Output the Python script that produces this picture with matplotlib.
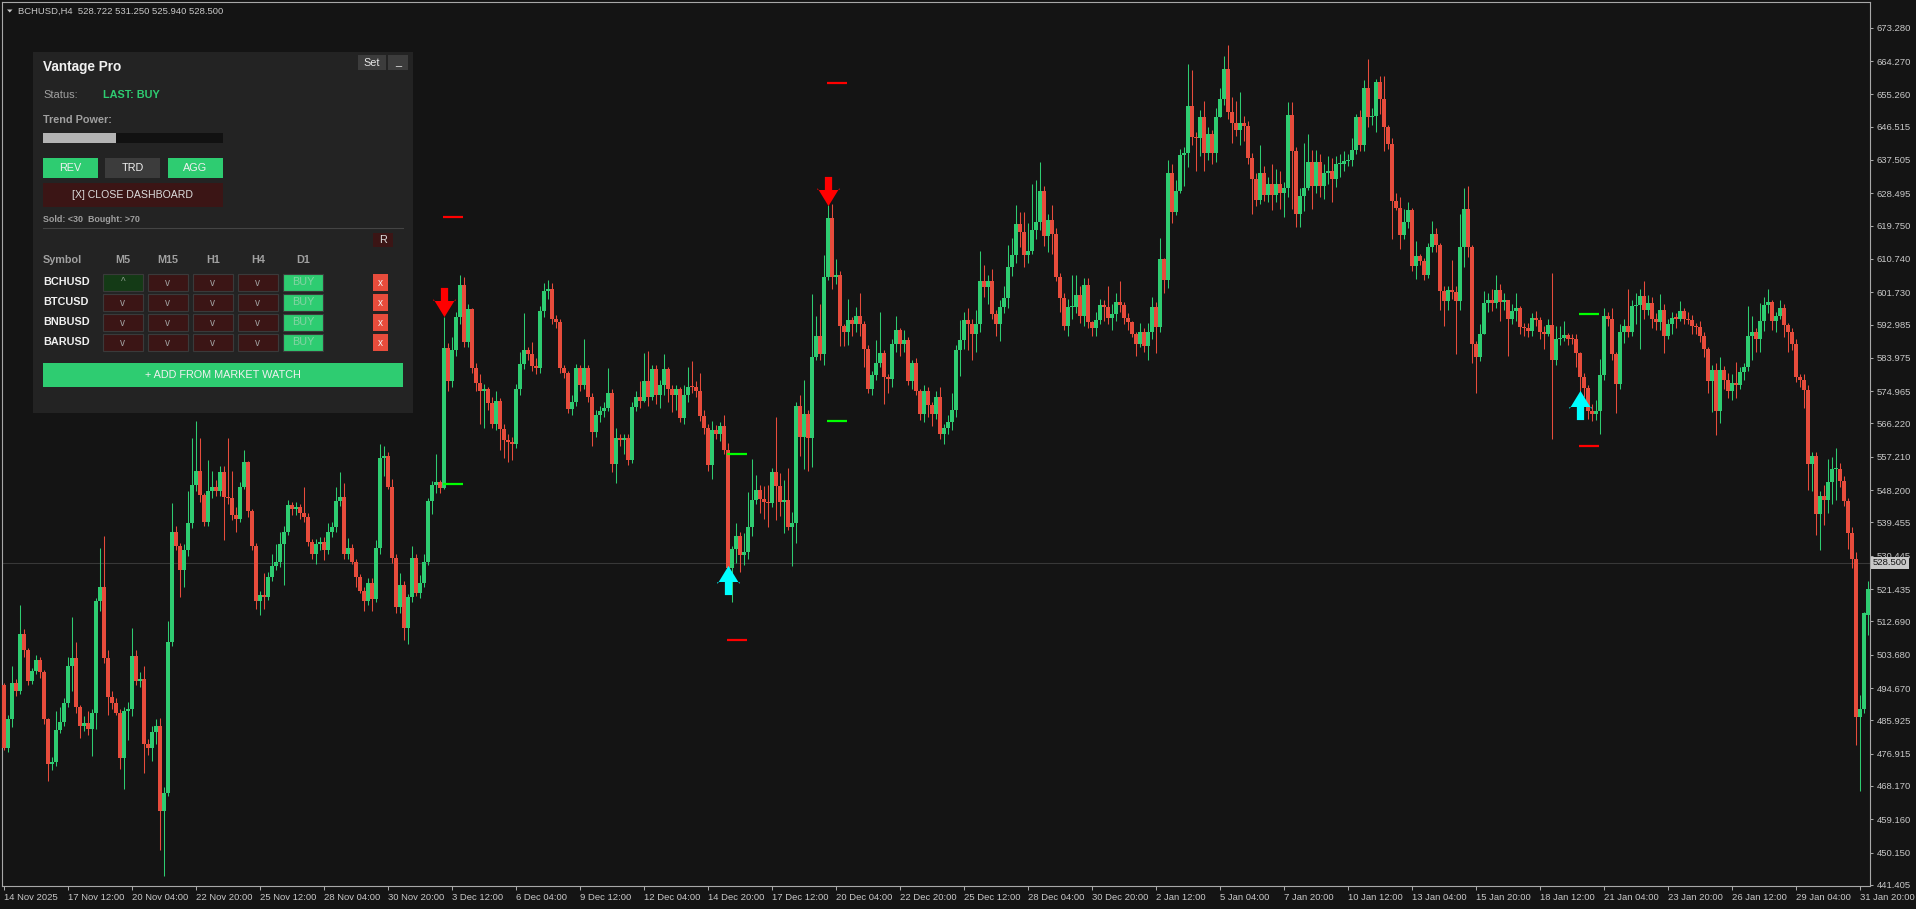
import matplotlib
matplotlib.use("Agg")
import matplotlib.pyplot as plt
from matplotlib.patches import Rectangle, Polygon
from matplotlib.path import Path
from matplotlib.transforms import blended_transform_factory
import numpy as np

plt.rcParams['font.family'] = ['Liberation Sans', 'DejaVu Sans']

# --- chart data (H4 bars) ---
symbol = "BCHUSD,H4"
last_bar = [528.722, 531.250, 525.940, 528.500]
last_price = 528.500

opens = [
    495.6, 478.5, 486.2, 496.1, 494.0, 509.4, 505.0, 496.7, 499.4, 502.2,
    498.9, 486.2, 474.1, 474.6, 483.4, 485.6, 490.6, 500.5, 502.8, 489.5,
    484.5, 485.1, 483.5, 487.8, 518.2, 522.1, 502.8, 492.2, 490.6, 487.8,
    475.7, 488.4, 488.9, 503.3, 496.7, 497.2, 479.6, 478.5, 482.9, 484.5,
    461.4, 466.3, 507.2, 537.0, 533.1, 526.5, 532.0, 539.2, 549.7, 553.5,
    546.9, 539.7, 548.0, 549.1, 548.0, 553.0, 546.4, 546.0, 541.4, 540.3,
    549.1, 555.7, 542.5, 533.1, 518.2, 519.9, 519.3, 524.8, 527.6, 528.7,
    533.7, 537.0, 544.1, 543.0, 543.6, 541.9, 540.8, 534.2, 530.9, 533.7,
    534.2, 532.0, 537.0, 538.1, 545.2, 546.4, 530.9, 532.6, 528.7, 524.8,
    521.0, 518.2, 523.2, 518.8, 532.6, 556.8, 557.4, 549.1, 529.8, 516.6,
    522.6, 511.0, 519.3, 529.8, 520.4, 523.2, 528.7, 545.2, 549.7, 550.5,
    548.9, 586.6, 577.8, 586.1, 594.9, 603.8, 588.3, 597.2, 581.1, 577.3,
    575.0, 575.6, 571.8, 566.2, 572.3, 564.6, 561.8, 561.3, 560.7, 575.6,
    582.2, 586.1, 585.0, 581.7, 581.1, 596.6, 602.1, 602.5, 594.4, 593.8,
    581.1, 580.0, 570.1, 572.0, 581.1, 576.7, 581.1, 573.4, 564.0, 568.4,
    569.5, 570.5, 574.5, 555.2, 562.4, 561.8, 562.4, 556.3, 570.6, 573.4,
    572.2, 577.7, 573.3, 581.0, 573.8, 576.6, 581.0, 575.5, 573.8, 575.5,
    567.8, 573.8, 576.1, 576.0, 575.0, 568.3, 565.0, 555.1, 564.5, 563.4,
    565.6, 559.0, 527.0, 532.2, 535.8, 530.6, 531.5, 538.3, 545.6, 548.3,
    545.7, 545.0, 544.6, 553.2, 549.3, 545.1, 545.6, 538.1, 539.3, 570.9,
    562.6, 568.9, 562.3, 584.3, 589.9, 584.9, 605.9, 621.9, 605.9, 606.4,
    592.6, 590.9, 594.3, 593.2, 595.4, 593.2, 586.5, 575.5, 579.4, 582.7,
    585.4, 578.8, 578.2, 587.6, 591.5, 587.6, 588.8, 577.7, 582.7, 575.0,
    568.9, 575.0, 571.1, 568.9, 573.3, 563.4, 565.0, 566.7, 570.0, 586.0,
    588.8, 594.3, 593.2, 590.4, 593.2, 604.8, 603.1, 604.8, 595.9, 593.2,
    597.6, 600.3, 608.6, 611.9, 620.2, 618.0, 611.9, 613.0, 618.6, 620.8,
    629.0, 616.9, 621.3, 617.5, 605.9, 600.3, 592.6, 597.6, 597.6, 600.9,
    595.4, 603.7, 593.7, 592.0, 594.3, 598.2, 597.6, 594.8, 595.9, 599.2,
    598.2, 594.8, 593.7, 590.4, 587.6, 591.0, 587.1, 591.0, 597.8, 592.3,
    610.8, 605.1, 634.0, 623.5, 629.0, 638.9, 639.5, 652.2, 643.7, 643.4,
    649.2, 639.5, 644.5, 639.5, 649.2, 654.1, 662.2, 650.6, 647.5, 645.6,
    647.5, 646.7, 637.9, 632.4, 626.8, 634.0, 627.9, 630.9, 627.9, 630.9,
    628.6, 629.8, 649.8, 639.9, 622.9, 627.7, 629.8, 636.9, 630.5, 636.9,
    630.5, 633.9, 634.6, 632.3, 636.4, 636.5, 637.1, 637.5, 640.1, 649.1,
    641.5, 657.1, 649.1, 649.5, 658.5, 653.9, 646.3, 641.9, 626.3, 624.5,
    617.1, 620.8, 624.0, 608.8, 611.5, 610.2, 606.3, 613.9, 617.4, 614.6,
    602.1, 599.4, 602.4, 601.9, 599.4, 613.9, 624.3, 613.9, 587.7, 584.2,
    590.4, 598.7, 599.7, 598.7, 602.4, 599.1, 599.5, 594.6, 596.7, 597.4,
    592.2, 592.0, 591.2, 594.8, 594.2, 591.1, 590.4, 592.8, 583.5, 589.1,
    589.4, 590.1, 589.1, 589.0, 585.3, 578.7, 575.9, 569.7, 568.8, 569.7,
    579.4, 595.3, 594.6, 584.9, 577.0, 591.1, 592.5, 591.1, 598.0, 598.3,
    600.8, 596.9, 598.7, 594.6, 593.6, 597.0, 589.8, 593.2, 594.8, 594.6,
    596.7, 594.6, 594.1, 592.5, 592.2, 590.0, 586.3, 577.6, 580.8, 569.7,
    580.8, 578.0, 574.9, 577.3, 576.7, 580.1, 581.5, 589.8, 591.1, 589.0,
    593.9, 598.3, 599.0, 593.9, 595.3, 597.4, 592.8, 591.1, 587.7, 578.7,
    578.0, 575.2, 555.2, 557.3, 541.7, 546.7, 545.6, 550.4, 553.8, 554.0,
    550.8, 545.3, 536.6, 529.7, 486.9, 489.0, 514.4,
]

highs = [
    496.1, 487.3, 500.5, 497.0, 517.1, 510.5, 505.5, 500.0, 503.5, 503.0,
    499.5, 486.5, 476.0, 488.4, 489.5, 492.0, 503.0, 513.8, 507.1, 490.0,
    487.0, 488.5, 489.0, 519.0, 532.6, 535.9, 505.0, 494.0, 492.0, 489.0,
    489.5, 491.0, 511.0, 505.0, 499.0, 500.5, 481.0, 484.5, 486.2, 486.5,
    468.0, 512.7, 544.7, 538.5, 534.0, 533.5, 548.0, 562.4, 566.8, 562.4,
    547.5, 556.3, 553.5, 551.0, 554.6, 554.6, 562.4, 553.5, 543.5, 550.5,
    559.1, 556.0, 543.0, 534.0, 521.0, 525.9, 526.0, 530.9, 533.7, 537.0,
    538.5, 545.5, 545.0, 545.0, 544.5, 549.1, 542.0, 535.0, 535.0, 535.5,
    535.5, 539.2, 539.5, 549.1, 553.0, 550.2, 535.3, 533.5, 529.5, 525.5,
    522.0, 524.5, 524.5, 534.8, 560.7, 560.2, 558.5, 551.3, 531.0, 525.9,
    523.5, 520.0, 533.1, 531.0, 525.3, 530.9, 546.0, 550.8, 557.9, 551.0,
    594.9, 588.0, 589.5, 596.5, 606.5, 605.9, 598.5, 597.5, 582.5, 579.5,
    577.0, 576.0, 573.5, 575.0, 573.0, 566.0, 563.5, 562.5, 577.0, 585.5,
    596.0, 587.0, 588.3, 584.0, 598.0, 604.3, 604.9, 604.3, 595.5, 594.5,
    582.0, 580.5, 574.0, 582.4, 582.0, 589.1, 582.0, 574.5, 570.0, 571.0,
    572.0, 581.1, 575.5, 565.0, 563.5, 563.5, 563.5, 572.0, 575.0, 577.7,
    585.4, 585.7, 582.0, 582.0, 578.0, 584.9, 581.5, 576.6, 576.5, 576.0,
    576.5, 581.6, 583.2, 577.7, 579.9, 570.0, 566.0, 567.0, 565.8, 566.7,
    568.5, 561.0, 533.0, 539.3, 537.0, 536.5, 547.8, 556.5, 552.3, 549.5,
    549.3, 549.5, 554.3, 567.9, 552.9, 551.0, 554.1, 542.2, 572.0, 574.0,
    578.0, 570.0, 601.3, 595.4, 598.6, 611.9, 625.2, 625.5, 610.6, 607.5,
    593.0, 599.8, 595.0, 597.7, 601.5, 594.0, 587.5, 580.5, 588.8, 596.5,
    586.0, 579.5, 589.0, 595.4, 592.0, 591.5, 589.5, 583.5, 584.0, 575.5,
    576.5, 576.0, 572.0, 575.0, 576.0, 566.0, 568.5, 574.4, 587.5, 594.3,
    596.5, 597.5, 594.5, 597.0, 613.0, 609.0, 606.5, 608.0, 597.0, 599.5,
    603.5, 614.5, 616.5, 625.2, 623.5, 623.5, 620.5, 630.9, 632.0, 636.9,
    630.5, 623.0, 625.2, 619.0, 607.0, 601.5, 600.0, 606.4, 606.5, 603.5,
    605.5, 605.5, 594.0, 596.5, 599.8, 599.5, 603.5, 598.5, 601.5, 604.8,
    599.0, 596.0, 594.0, 591.0, 593.5, 592.0, 593.5, 600.5, 599.0, 616.5,
    611.0, 637.5, 636.4, 632.0, 640.6, 641.0, 663.5, 661.8, 645.0, 651.0,
    653.5, 646.5, 645.5, 651.5, 657.0, 665.5, 668.6, 654.5, 653.5, 655.9,
    649.5, 648.0, 639.5, 634.0, 641.5, 636.0, 633.0, 636.5, 635.0, 634.4,
    631.5, 653.3, 653.3, 641.0, 630.0, 642.2, 644.4, 640.3, 640.3, 639.0,
    636.5, 638.5, 638.0, 638.5, 639.0, 640.0, 639.0, 643.5, 650.0, 651.0,
    659.0, 664.9, 651.5, 659.5, 660.2, 660.1, 647.0, 643.5, 628.5, 627.5,
    624.3, 626.1, 624.5, 615.5, 612.0, 611.0, 615.0, 621.1, 619.0, 615.0,
    603.5, 603.5, 610.5, 603.5, 622.9, 629.8, 630.5, 614.5, 588.5, 593.0,
    602.0, 601.5, 602.5, 606.3, 603.9, 601.5, 599.5, 598.5, 601.5, 598.0,
    593.5, 593.5, 596.0, 596.7, 595.0, 592.5, 594.5, 606.9, 592.5, 592.5,
    593.9, 590.8, 590.5, 590.5, 585.5, 580.0, 576.5, 571.5, 572.5, 583.7,
    597.4, 596.5, 597.4, 585.5, 593.0, 594.5, 602.6, 599.5, 601.5, 602.6,
    604.7, 601.0, 600.5, 596.0, 601.2, 598.5, 594.5, 596.5, 596.0, 599.4,
    597.5, 596.5, 595.5, 593.5, 594.0, 591.0, 587.0, 582.0, 582.5, 584.2,
    581.8, 580.0, 579.5, 582.9, 581.5, 582.5, 598.0, 595.3, 592.0, 598.8,
    600.5, 602.6, 599.5, 596.5, 599.6, 598.5, 593.5, 592.0, 589.0, 579.5,
    579.5, 576.5, 558.5, 558.5, 548.0, 549.5, 556.6, 557.2, 559.5, 555.5,
    552.0, 546.0, 538.2, 531.5, 492.9, 515.3, 523.6,
]

lows = [
    477.9, 477.5, 484.0, 492.5, 493.0, 503.0, 495.5, 495.8, 498.5, 497.5,
    485.0, 469.6, 472.5, 473.5, 482.5, 484.5, 489.5, 494.0, 488.0, 481.2,
    483.0, 482.0, 476.3, 483.5, 515.5, 501.5, 487.3, 489.0, 487.3, 472.9,
    467.4, 480.6, 487.0, 495.5, 495.0, 471.8, 476.5, 475.0, 479.5, 450.9,
    443.7, 465.5, 506.0, 532.0, 519.3, 522.0, 530.5, 538.0, 548.0, 545.0,
    538.5, 538.5, 546.0, 546.5, 546.5, 534.8, 544.5, 540.0, 537.0, 539.5,
    548.5, 541.0, 532.0, 516.0, 514.3, 516.0, 518.5, 523.5, 526.5, 527.5,
    522.5, 536.0, 541.5, 541.5, 540.5, 539.5, 533.0, 529.5, 528.2, 532.0,
    529.2, 531.0, 535.5, 537.0, 544.0, 529.5, 529.5, 528.2, 522.1, 520.4,
    515.4, 517.0, 515.4, 518.0, 531.0, 552.0, 548.5, 528.5, 514.9, 515.0,
    507.7, 506.6, 518.0, 519.5, 519.0, 522.0, 528.0, 541.8, 547.5, 547.5,
    548.5, 575.0, 576.0, 584.5, 593.0, 587.0, 587.0, 580.0, 575.0, 566.2,
    565.1, 570.0, 565.0, 564.5, 559.1, 557.0, 555.7, 556.3, 559.5, 574.0,
    581.0, 583.5, 580.5, 579.5, 580.0, 595.0, 600.0, 593.0, 592.0, 580.0,
    578.5, 569.0, 568.5, 571.0, 575.0, 575.5, 572.0, 560.2, 562.5, 566.5,
    568.0, 569.5, 553.0, 550.2, 560.0, 558.0, 555.0, 555.5, 569.5, 570.5,
    572.0, 571.0, 572.5, 571.5, 570.5, 574.0, 572.0, 569.3, 570.0, 566.5,
    566.0, 572.0, 574.5, 573.5, 567.0, 563.5, 553.4, 551.2, 562.0, 561.5,
    558.0, 524.5, 518.0, 528.5, 526.0, 528.0, 529.5, 535.9, 544.5, 542.0,
    540.5, 538.2, 543.7, 540.0, 541.2, 536.5, 537.5, 527.8, 533.8, 557.5,
    554.0, 553.4, 554.5, 583.5, 583.5, 582.1, 605.0, 602.6, 604.0, 587.1,
    587.1, 587.5, 590.0, 591.0, 590.0, 581.5, 574.4, 574.0, 578.0, 581.5,
    571.5, 574.5, 576.0, 585.5, 584.5, 585.5, 576.6, 575.5, 573.8, 567.2,
    566.5, 568.0, 565.6, 567.5, 562.0, 560.6, 563.5, 564.5, 568.0, 579.0,
    586.5, 586.0, 583.5, 585.6, 591.0, 600.5, 598.5, 594.5, 590.0, 588.4,
    596.0, 597.5, 606.0, 609.5, 614.0, 608.5, 609.5, 612.0, 616.0, 618.5,
    614.3, 612.5, 612.0, 604.8, 596.3, 591.5, 590.0, 594.5, 596.0, 593.5,
    592.5, 592.0, 589.9, 590.0, 593.0, 594.0, 593.0, 591.5, 594.0, 596.5,
    593.0, 591.5, 589.5, 584.5, 587.0, 585.5, 583.5, 589.0, 585.4, 591.0,
    601.5, 602.9, 620.4, 622.5, 628.5, 630.5, 635.5, 641.5, 634.5, 638.5,
    634.5, 637.5, 636.5, 637.0, 649.0, 652.5, 648.5, 642.0, 644.0, 641.5,
    642.5, 636.5, 622.8, 625.0, 625.5, 626.5, 626.0, 624.0, 626.0, 624.3,
    622.0, 627.5, 624.3, 619.3, 619.3, 623.6, 629.5, 624.3, 628.5, 627.5,
    627.0, 631.0, 626.0, 630.3, 633.0, 634.5, 636.0, 636.0, 639.0, 640.0,
    640.0, 646.5, 647.0, 645.0, 650.0, 640.0, 640.5, 616.0, 624.0, 613.5,
    616.0, 619.0, 607.5, 605.2, 609.0, 604.9, 605.5, 612.5, 612.5, 597.0,
    592.5, 597.0, 600.0, 585.0, 597.0, 608.5, 611.3, 582.7, 574.5, 583.0,
    590.5, 596.5, 596.7, 597.5, 593.9, 597.0, 584.6, 593.0, 594.0, 590.5,
    590.0, 589.5, 590.0, 592.5, 589.0, 586.5, 590.0, 562.0, 582.0, 587.5,
    588.5, 587.5, 587.7, 581.5, 567.7, 573.5, 567.5, 566.8, 567.3, 563.5,
    578.0, 592.5, 583.5, 569.0, 575.5, 588.0, 589.5, 590.0, 593.0, 586.4,
    594.5, 595.5, 592.0, 591.5, 591.5, 585.4, 589.0, 590.5, 592.0, 594.0,
    593.0, 593.0, 590.5, 590.5, 588.2, 584.2, 574.6, 569.3, 563.0, 566.3,
    575.5, 573.0, 572.5, 573.2, 575.5, 578.0, 580.5, 583.5, 585.5, 585.5,
    591.2, 596.0, 591.5, 591.0, 594.5, 589.5, 585.5, 586.0, 577.5, 576.0,
    570.4, 548.3, 548.0, 536.0, 532.0, 538.7, 542.0, 544.5, 545.6, 549.0,
    544.0, 532.3, 527.0, 479.3, 466.9, 487.8, 508.9,
]

closes = [
    478.5, 486.2, 496.1, 494.0, 509.4, 505.0, 496.7, 499.4, 502.2, 498.9,
    486.2, 474.1, 474.6, 483.4, 485.6, 490.6, 500.5, 502.8, 489.5, 484.5,
    485.1, 483.5, 487.8, 518.2, 522.1, 502.8, 492.2, 490.6, 487.8, 475.7,
    488.4, 488.9, 503.3, 496.7, 497.2, 479.6, 478.5, 482.9, 484.5, 461.4,
    466.3, 507.2, 537.0, 533.1, 526.5, 532.0, 539.2, 549.7, 553.5, 546.9,
    539.7, 548.0, 549.1, 548.0, 553.0, 546.4, 546.0, 541.4, 540.3, 549.1,
    555.7, 542.5, 533.1, 518.2, 519.9, 519.3, 524.8, 527.6, 528.7, 533.7,
    537.0, 544.1, 543.0, 543.6, 541.9, 540.8, 534.2, 530.9, 533.7, 534.2,
    532.0, 537.0, 538.1, 545.2, 546.4, 530.9, 532.6, 528.7, 524.8, 521.0,
    518.2, 523.2, 518.8, 532.6, 556.8, 557.4, 549.1, 529.8, 516.6, 522.6,
    511.0, 519.3, 529.8, 520.4, 523.2, 528.7, 545.2, 549.7, 550.5, 548.9,
    586.6, 577.8, 586.1, 594.9, 603.8, 588.3, 597.2, 581.1, 577.3, 575.0,
    575.6, 571.8, 566.2, 572.3, 564.6, 561.8, 561.3, 560.7, 575.6, 582.2,
    586.1, 585.0, 581.7, 581.1, 596.6, 602.1, 602.5, 594.4, 593.8, 581.1,
    580.0, 570.1, 572.0, 581.1, 576.7, 581.1, 573.4, 564.0, 568.4, 569.5,
    570.5, 574.5, 555.2, 562.4, 561.8, 562.4, 556.3, 570.6, 573.4, 572.2,
    577.7, 573.3, 581.0, 573.8, 576.6, 581.0, 575.5, 573.8, 575.5, 567.8,
    573.8, 576.1, 576.0, 575.0, 568.3, 565.0, 555.1, 564.5, 563.4, 565.6,
    559.0, 527.0, 532.2, 535.8, 530.6, 531.5, 538.3, 545.6, 548.3, 545.7,
    545.0, 544.6, 553.2, 549.3, 545.1, 545.6, 538.1, 539.3, 570.9, 562.6,
    568.9, 562.3, 584.3, 589.9, 584.9, 605.9, 621.9, 605.9, 606.4, 592.6,
    590.9, 594.3, 593.2, 595.4, 593.2, 586.5, 575.5, 579.4, 582.7, 585.4,
    578.8, 578.2, 587.6, 591.5, 587.6, 588.8, 577.7, 582.7, 575.0, 568.9,
    575.0, 571.1, 568.9, 573.3, 563.4, 565.0, 566.7, 570.0, 586.0, 588.8,
    594.3, 593.2, 590.4, 593.2, 604.8, 603.1, 604.8, 595.9, 593.2, 597.6,
    600.3, 608.6, 611.9, 620.2, 618.0, 611.9, 613.0, 618.6, 620.8, 629.0,
    616.9, 621.3, 617.5, 605.9, 600.3, 592.6, 597.6, 597.6, 600.9, 595.4,
    603.7, 593.7, 592.0, 594.3, 598.2, 597.6, 594.8, 595.9, 599.2, 598.2,
    594.8, 593.7, 590.4, 587.6, 591.0, 587.1, 591.0, 597.8, 592.3, 610.8,
    605.1, 634.0, 623.5, 629.0, 638.9, 639.5, 652.2, 643.7, 643.4, 649.2,
    639.5, 644.5, 639.5, 649.2, 654.1, 662.2, 650.6, 647.5, 645.6, 647.5,
    646.7, 637.9, 632.4, 626.8, 634.0, 627.9, 630.9, 627.9, 630.9, 628.6,
    629.8, 649.8, 639.9, 622.9, 627.7, 629.8, 636.9, 630.5, 636.9, 630.5,
    633.9, 634.6, 632.3, 636.4, 636.5, 637.1, 637.5, 640.1, 649.1, 641.5,
    657.1, 649.1, 649.5, 658.5, 653.9, 646.3, 641.9, 626.3, 624.5, 617.1,
    620.8, 624.0, 608.8, 611.5, 610.2, 606.3, 613.9, 617.4, 614.6, 602.1,
    599.4, 602.4, 601.9, 599.4, 613.9, 624.3, 613.9, 587.7, 584.2, 590.4,
    598.7, 599.7, 598.7, 602.4, 599.1, 599.5, 594.6, 596.7, 597.4, 592.2,
    592.0, 591.2, 594.8, 594.2, 591.1, 590.4, 592.8, 583.5, 589.1, 589.4,
    590.1, 589.1, 589.0, 585.3, 578.7, 575.9, 569.7, 568.8, 569.7, 579.4,
    595.3, 594.6, 584.9, 577.0, 591.1, 592.5, 591.1, 598.0, 598.3, 600.8,
    596.9, 598.7, 594.6, 593.6, 597.0, 589.8, 593.2, 594.8, 594.6, 596.7,
    594.6, 594.1, 592.5, 592.2, 590.0, 586.3, 577.6, 580.8, 569.7, 580.8,
    578.0, 574.9, 577.3, 576.7, 580.1, 581.5, 589.8, 591.1, 589.0, 593.9,
    598.3, 599.0, 593.9, 595.3, 597.4, 592.8, 591.1, 587.7, 578.7, 578.0,
    575.2, 555.2, 557.3, 541.7, 546.7, 545.6, 550.4, 553.8, 554.0, 550.8,
    545.3, 536.6, 529.7, 486.9, 489.0, 514.9, 521.4,
]

# one time label every 16 bars
label_step = 16
date_labels = [
    "14 Nov 2025", "17 Nov 12:00", "20 Nov 04:00", "22 Nov 20:00", "25 Nov 12:00",
    "28 Nov 04:00", "30 Nov 20:00", "3 Dec 12:00", "6 Dec 04:00", "9 Dec 12:00",
    "12 Dec 04:00", "14 Dec 20:00", "17 Dec 12:00", "20 Dec 04:00", "22 Dec 20:00",
    "25 Dec 12:00", "28 Dec 04:00", "30 Dec 20:00", "2 Jan 12:00", "5 Jan 04:00",
    "7 Jan 20:00", "10 Jan 12:00", "13 Jan 04:00", "15 Jan 20:00", "18 Jan 12:00",
    "21 Jan 04:00", "23 Jan 20:00", "26 Jan 12:00", "29 Jan 04:00", "31 Jan 20:00",
]

price_ticks = [
    673.280, 664.270, 655.260, 646.515, 637.505, 628.495, 619.750, 610.740, 601.730,
    592.985, 583.975, 574.965, 566.220, 557.210, 548.200, 539.455, 530.445, 521.435,
    512.690, 503.680, 494.670, 485.925, 476.915, 468.170, 459.160, 450.150, 441.405,
]

# indicator signals: arrow + stop (red) / target (green) levels
signal_bars = [110, 181, 206, 394]
signal_types = ["sell", "buy", "sell", "buy"]
arrow_prices = [599.2, 523.8, 629.0, 571.2]
red_levels = [622.1, 507.7, 658.4, 560.1]
green_levels = [549.8, 558.05, 566.9, 595.8]
level_len = 5

# dashboard content
panel_title = "Vantage Pro"
status_text = "LAST: BUY"
trend_power = 0.405
modes = ["REV", "TRD", "AGG"]
mode_on = [True, False, True]
thresholds = "Sold: <30  Bought: >70"
timeframes = ["M5", "M15", "H1", "H4", "D1"]
symbols = ["BCHUSD", "BTCUSD", "BNBUSD", "BARUSD"]
cells = [
    ["^", "v", "v", "v", "BUY"],
    ["v", "v", "v", "v", "BUY"],
    ["v", "v", "v", "v", "BUY"],
    ["v", "v", "v", "v", "BUY"],
]

BG = "#141414"
BULL = "#2ecc71"
BEAR = "#e74c3c"
FRAME = "#a8a8a8"
TXT = "#c8c8c8"

W, H = 1916, 909
fig = plt.figure(figsize=(W / 100, H / 100), dpi=100, facecolor=BG)
ax = fig.add_axes([2 / W, 23 / H, 1868 / W, 884 / H], facecolor=BG)

o = np.array(opens)
h = np.array(highs)
l = np.array(lows)
c = np.array(closes)
x = np.arange(len(c))
col = np.where(c >= o, BULL, BEAR)

ax.axhline(last_price, color="#383838", lw=0.8, zorder=1)
ax.vlines(x, np.minimum(l, np.minimum(o, c)), np.maximum(h, np.maximum(o, c)),
          colors=col, linewidth=0.75, zorder=2)
ax.bar(x, np.maximum(np.abs(c - o), 0.3), bottom=np.minimum(o, c), width=0.76,
       color=col, linewidth=0, zorder=3)

# stop / target dashes
for b, r, g in zip(signal_bars, red_levels, green_levels):
    ax.hlines(r, b - 0.3, b + level_len - 0.2, colors="#ff0000", lw=1.6, zorder=4)
    ax.hlines(g, b - 0.3, b + level_len - 0.2, colors="#00ff00", lw=1.6, zorder=4)

# arrow glyphs
down_verts = [(-3.6, 14.5), (3.6, 14.5), (3.6, 1.5), (11, 1.5), (11, 3.5), (0, -14.5),
              (-11, 3.5), (-11, 1.5), (-3.6, 1.5), (-3.6, 14.5)]
down_arrow = Path(down_verts, closed=True)
up_arrow = Path([(vx, -vy) for vx, vy in down_verts], closed=True)
for b, t, p in zip(signal_bars, signal_types, arrow_prices):
    if t == "sell":
        ax.plot(b, p, marker=down_arrow, ms=21, color="#ff0000", mew=0, ls="none", zorder=6)
    else:
        ax.plot(b, p, marker=up_arrow, ms=21, color="#00ffff", mew=0, ls="none", zorder=6)

ax.set_xlim(-0.5, 466.5)
ax.set_ylim(441.12, 680.23)
ax.yaxis.tick_right()
ax.set_yticks(price_ticks)
ax.set_yticklabels([f"{p:.3f}" for p in price_ticks])
ax.set_xticks(np.arange(len(date_labels)) * label_step)
ax.set_xticklabels(date_labels, ha="left")
ax.tick_params(axis="both", colors=FRAME, labelcolor=TXT, labelsize=6.8, width=0.75)
ax.tick_params(axis="x", length=3, pad=2)
ax.tick_params(axis="y", length=2.5, pad=2.5)
for s in ax.spines.values():
    s.set_color(FRAME)
    s.set_linewidth(0.8)

trans = blended_transform_factory(ax.transAxes, ax.transData)
ax.annotate(f"{last_price:.3f}", xy=(1, last_price), xycoords=trans, xytext=(2.2, 0),
            textcoords="offset points", ha="left", va="center", fontsize=6.8,
            color="#141414", annotation_clip=False, zorder=7,
            bbox=dict(boxstyle="square,pad=0.18", fc="#c8c8c8", ec="none"))

# ---- overlay in pixel coordinates: header + dashboard ----
ov = fig.add_axes([0, 0, 1, 1], zorder=10)
ov.set_xlim(0, W)
ov.set_ylim(H, 0)
ov.axis("off")


def box(x0, y0, w, hh, fc, ec="none"):
    ov.add_patch(Rectangle((x0, y0), w, hh, facecolor=fc, edgecolor=ec, linewidth=0.8))


def label(x0, y0, s, color, size=7.8, weight="normal", ha="left"):
    ov.text(x0, y0, s, color=color, fontsize=size, fontweight=weight, ha=ha, va="center")


ov.add_patch(Polygon([(7, 9.5), (12.5, 9.5), (9.75, 12.5)], closed=True, fc=TXT, ec="none"))
label(18, 11, symbol + "  " + " ".join(f"{v:.3f}" for v in last_bar), TXT, 6.8)

box(33, 52, 380, 361, "#232323")
label(43, 67, panel_title, "#f0f0f0", 9.8, "bold")
box(358, 55, 28, 15, "#3c3c3c")
label(372, 62.5, "Set", "#e6e6e6", 7.8, ha="center")
box(388, 55, 20, 15, "#3c3c3c")
label(398, 62, "_", "#e6e6e6", 7.8, ha="center")

label(43, 95, "Status:", "#a0a0a0", 8.0)
label(103, 95, status_text, "#2ecc71", 7.8, "bold")
label(43, 120, "Trend Power:", "#a0a0a0", 7.8, "bold")
box(43, 133, 180, 10, "#111111")
box(43, 133, 180 * trend_power, 10, "#b4b4b4")

for k, (m, on) in enumerate(zip(modes, mode_on)):
    bx = 43 + k * 62.5
    box(bx, 158, 55, 20, "#2ecc71" if on else "#3c3c3c")
    label(bx + 27.5, 168, m, "#f0f0f0", 7.8, ha="center")

box(43, 183, 180, 24, "#3b1515")
label(133, 195, "[X] CLOSE DASHBOARD", "#dddddd", 7.6, ha="center")
label(43, 220, thresholds, "#a0a0a0", 6.4, "bold")
ov.plot([43, 403], [228, 228], color="#444444", lw=0.8)
box(373, 233, 20, 14, "#3b1515")
label(383, 240, "R", "#dddddd", 7.8, ha="center")

label(43, 260, "Symbol", "#a0a0a0", 7.8, "bold")
col_x = [103.3, 148.3, 193.3, 238.3, 283.3]
for tf, cx in zip(timeframes, col_x):
    label(cx + 19.5, 260, tf, "#a0a0a0", 7.8, "bold", ha="center")

for r, (sym, row) in enumerate(zip(symbols, cells)):
    yc = 282 + r * 20
    label(43, yc, sym, "#f0f0f0", 7.8, "bold")
    for cx, v in zip(col_x, row):
        if v == "BUY":
            box(cx, yc - 8.5, 39.3, 17, "#2ecc71", "#3a3a3a")
            label(cx + 19.6, yc, v, "#86d3a4", 7.8, ha="center")
        elif v == "^":
            box(cx, yc - 8.5, 39.3, 17, "#143a16", "#3a3a3a")
            label(cx + 19.6, yc, v, "#8a9a8a", 7.0, ha="center")
        else:
            box(cx, yc - 8.5, 39.3, 17, "#3b1515", "#3a3a3a")
            label(cx + 19.6, yc + 1, v, "#a0a0a0", 7.2, ha="center")
    box(373, yc - 8.5, 14.7, 17, "#e74c3c")
    label(380.3, yc + 1, "x", "#f0f0f0", 7.2, ha="center")

box(43, 363, 360, 24, "#2ecc71")
label(223, 375, "+ ADD FROM MARKET WATCH", "#f0f0f0", 7.8, ha="center")

fig.savefig("out.png", dpi=100, facecolor=BG)
